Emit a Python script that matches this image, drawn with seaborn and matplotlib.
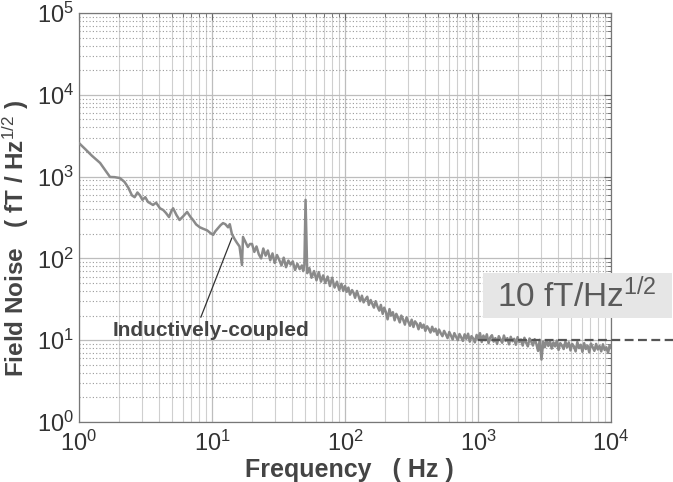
import numpy as np
import pandas as pd
import seaborn as sns
import matplotlib.pyplot as plt
from matplotlib.patches import Rectangle
from matplotlib.ticker import LogLocator, NullFormatter

# smooth part of the spectrum, 1 - 19 Hz
low_freq = [1.0, 1.12, 1.25, 1.44, 1.6, 1.71, 1.85, 2.03, 2.2, 2.35,
            2.5, 2.62, 2.75, 2.87, 3.0, 3.15, 3.3, 3.45, 3.6, 3.8,
            4.06, 4.3, 4.5, 4.75, 4.95, 5.1, 5.4, 5.7, 6.1, 6.5,
            6.9, 7.2, 7.6, 8.1, 8.6, 9.2, 9.7, 10.2, 10.6, 11.1,
            11.6, 12.1, 12.6, 13.2, 13.6, 14.1, 14.7, 15.4, 16.1, 16.8,
            17.1, 17.8, 18.6, 19.3]
low_noise = [2570, 2150, 1800, 1470, 1150, 990, 985, 960, 860, 730,
             590, 560, 640, 590, 520, 560, 490, 470, 450, 480,
             410, 390, 360, 320, 380, 410, 340, 295, 330, 370,
             320, 295, 260, 240, 230, 220, 205, 194, 215, 235,
             255, 270, 262, 240, 262, 200, 175, 155, 140, 83,
             183, 160, 138, 150]

# 20 - 97 Hz, includes the 50 Hz mains line
mid_freq = [20, 20.8, 21.6, 22.5, 23.4, 24.3, 25.3, 26.3, 27.4, 28.5,
            29.6, 30.8, 32, 33.3, 34.6, 36, 37.5, 39, 40.5, 42.1,
            43.8, 45.6, 47.4, 48.5, 49.5, 50.5, 52, 54, 56, 58.5,
            61, 63.5, 66, 68.5, 71, 74, 77, 80, 83.5, 87,
            90.5, 94, 97]
mid_noise = [150, 120, 140, 112, 100, 132, 108, 125, 95, 115,
             88, 110, 96, 82, 102, 78, 94, 84, 92, 72,
             86, 74, 82, 70, 84, 520, 66, 76, 58, 70,
             54, 68, 52, 62, 50, 60, 46, 58, 44, 52,
             41, 49, 40]

# 100 Hz - 10 kHz, flattening towards the white-noise floor
high_freq = [100, 103, 106, 109, 113, 116, 119, 123, 127, 130,
             134, 138, 143, 147, 151, 156, 160, 165, 170, 175,
             181, 186, 192, 197, 203, 209, 216, 222, 229, 236,
             243, 250, 258, 265, 273, 282, 290, 299, 308, 317,
             327, 336, 347, 357, 368, 379, 390, 402, 414, 426,
             439, 452, 466, 480, 494, 509, 524, 540, 556, 573,
             590, 608, 626, 645, 664, 684, 705, 726, 748, 770,
             793, 817, 842, 867, 893, 920, 947, 976, 1005, 1035,
             1066, 1098, 1131, 1165, 1200, 1236, 1273, 1311, 1351, 1391,
             1433, 1476, 1520, 1566, 1613, 1661, 1711, 1762, 1815, 1870,
             1926, 1984, 2043, 2104, 2168, 2233, 2300, 2369, 2440, 2513,
             2588, 2666, 2746, 2828, 2913, 3000, 3090, 3183, 3278, 3377,
             3478, 3582, 3690, 3800, 3914, 4032, 4153, 4277, 4406, 4538,
             4674, 4814, 4959, 5107, 5261, 5418, 5581, 5748, 5921, 6098,
             6281, 6470, 6664, 6864, 7069, 7281, 7500, 7725, 7956, 8195,
             8441, 8694, 8955, 9224, 9500, 9785, 10000]
high_noise = [46, 39, 44, 36, 41, 38, 33, 40, 34, 30,
              35, 29, 32, 34, 27, 31, 28, 25, 30, 26,
              23, 27, 21, 25, 22, 18, 24, 20, 22, 17.5,
              21, 19, 16.5, 20, 18, 15.5, 19, 16.8, 15, 17.8,
              14.5, 17, 15.8, 13.6, 16.2, 14.2, 15.5, 13, 14.8, 13.8,
              12.4, 14.6, 12.8, 13.8, 11.6, 13.5, 12.2, 11.2, 13, 11.8,
              10.6, 12.6, 11.4, 10.2, 12.2, 11, 10, 11.9, 10.8, 9.8,
              11.8, 10.4, 12, 9.6, 11.2, 10.5, 9.4, 11.6, 10.2, 12.2,
              9.5, 11.4, 10, 11.8, 9.2, 10.8, 11.5, 9.6, 10.6, 9,
              11.2, 10.2, 9.3, 11.4, 9.8, 10.6, 8.9, 11, 9.7, 10.4,
              8.8, 10.9, 9.5, 10.2, 8.6, 10.7, 9.3, 8.4, 10.5, 9.6,
              8.6, 10.3, 9, 7.4, 10.1, 5.8, 9.6, 8.2, 10, 8.5,
              9.7, 7.9, 9.4, 8.4, 9.9, 7.6, 9.2, 8.6, 7.8, 9.6,
              8.2, 9.4, 7.5, 9, 8.4, 7.3, 9.5, 8, 8.8, 7.2,
              9.2, 7.8, 8.6, 7.1, 9.1, 8.2, 7.4, 9, 7.7, 8.5,
              7.3, 8.9, 7.6, 8.2, 7, 8.7, 8.0]

# 10 fT/Hz^1/2 reference level, runs past the right edge of the axes
ref_freq = [1000, 29500]
ref_level = [10, 10]

sns.set_style('white')
plt.rcParams['font.family'] = ['Liberation Sans', 'DejaVu Sans']
plt.rcParams['mathtext.fontset'] = 'custom'
plt.rcParams['mathtext.rm'] = 'Liberation Sans'
plt.rcParams['mathtext.it'] = 'Liberation Sans:italic'
plt.rcParams['mathtext.bf'] = 'Liberation Sans:bold'

df = pd.DataFrame({'freq': low_freq + mid_freq + high_freq,
                   'noise': low_noise + mid_noise + high_noise})

fig = plt.figure(figsize=(6.73, 4.82), dpi=100)
ax = fig.add_axes([0.1174, 0.1245, 0.7905, 0.8485])

sns.lineplot(data=df, x='freq', y='noise', ax=ax, color='#8a8a8a',
             lw=1.8, estimator=None, sort=False, zorder=3)
ax.plot(ref_freq, ref_level, color='#555555', lw=1.6, dashes=(4, 2),
        clip_on=False, zorder=4)

ax.set_xscale('log')
ax.set_yscale('log')
ax.set_xlim(1, 1e4)
ax.set_ylim(1, 1e5)
ax.xaxis.set_minor_locator(LogLocator(subs=np.arange(2, 10)))
ax.yaxis.set_minor_locator(LogLocator(subs=np.arange(2, 10)))
ax.xaxis.set_minor_formatter(NullFormatter())
ax.yaxis.set_minor_formatter(NullFormatter())

ax.xaxis.grid(True, which='major', color='#bdbdbd', lw=0.9)
ax.xaxis.grid(True, which='minor', color='#cfcfcf', lw=0.8)
ax.yaxis.grid(True, which='major', color='#bdbdbd', lw=0.9)
ax.yaxis.grid(True, which='minor', color='#9a9a9a', lw=0.8, linestyle=(0, (1, 2)))
ax.set_axisbelow(True)

for s in ax.spines.values():
    s.set_color('#777777')
    s.set_linewidth(0.9)
ax.tick_params(which='both', direction='in', top=True, right=True,
               color='#666666', labelcolor='#333333')
ax.tick_params(which='major', length=5, labelsize=17)
ax.tick_params(axis='x', which='major', pad=6)
ax.tick_params(which='minor', length=3)

ax.set_xlabel('Frequency   ( Hz )', fontsize=18, fontweight='bold', color='#444444')
ax.set_ylabel('Field Noise   ( fT / Hz$^{1/2}$ )', fontsize=17.5,
              fontweight='bold', color='#444444')
ax.xaxis.set_label_coords(0.508, -0.088)
ax.yaxis.set_label_coords(-0.09, 0.45)

ax.annotate('Inductively-coupled', xy=(14.1, 178), xytext=(1.8, 13.3),
            ha='left', va='center', fontsize=15, fontweight='bold',
            color='#444444',
            arrowprops=dict(arrowstyle='-', color='#333333', lw=0.9,
                            shrinkA=0, shrinkB=0, relpos=(0.44, 1.0)))

# grey label box overlapping the right edge of the axes
fig.patches.append(Rectangle((483 / 673, 1 - 318 / 482), 189 / 673, 45 / 482,
                             transform=fig.transFigure, fc='#e6e6e6',
                             ec='none', zorder=2))
fig.text(577 / 673, 1 - 307 / 482, '10 fT/Hz$^{1/2}$', fontsize=24,
         color='#5a5a5a', ha='center', va='baseline', zorder=3)

fig.savefig('out.png', dpi=100)
